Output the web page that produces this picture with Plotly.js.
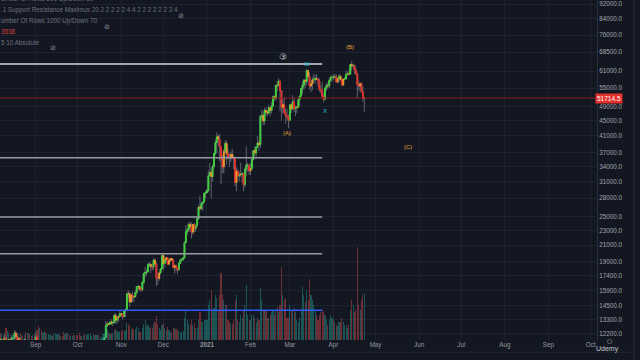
<!DOCTYPE html>
<html><head><meta charset="utf-8">
<script src="https://cdn.plot.ly/plotly-3.0.1.min.js"></script>
<style>html,body{margin:0;padding:0;background:#131722;overflow:hidden}#chart{width:640px;height:360px}</style>
</head><body><div id="chart"></div>
<script>
// ---- data (BTC/USD daily, thousands of USD) ----
const startDate = [2020, 7, 7]; // 7 Aug 2020 (month is 0-based)
const firstOpenK = 11.78;
const closeK = [
 11.60,11.76,11.68,11.88,11.41,11.58,11.78,11.77,11.87,11.91,12.25,11.99,11.76,11.88,11.59,11.68,11.66,11.77,11.37,11.48,11.32,11.54,11.50,11.68,11.65,
 11.95,11.41,10.24,10.51,10.17,10.28,10.37,10.13,10.24,10.36,10.40,10.44,10.33,10.68,10.79,10.95,10.95,10.93,11.08,10.92,10.42,10.54,10.24,10.74,10.69,10.73,10.77,10.70,10.84,10.78,
 10.62,10.57,10.55,10.67,10.79,10.60,10.67,10.92,11.06,11.30,11.38,11.55,11.43,11.43,11.50,11.33,11.37,11.51,11.76,11.92,12.82,12.97,12.93,13.12,13.03,13.07,13.65,13.27,13.46,13.56,13.80,
 13.76,13.55,14.03,14.16,15.59,15.58,14.83,15.48,15.33,15.30,15.70,16.29,16.32,16.07,15.96,16.72,17.65,17.80,17.82,18.68,18.69,18.42,18.37,19.16,18.72,17.15,17.14,17.72,18.18,19.70,
 18.79,19.22,19.45,18.70,19.15,19.36,19.17,18.32,18.55,18.26,18.04,18.80,19.14,19.25,19.44,21.36,22.80,23.13,23.87,23.48,22.74,23.82,23.24,23.73,24.71,26.49,26.28,27.08,27.36,28.84,29.00,
 29.37,32.13,32.78,31.97,33.99,36.82,39.37,40.80,40.25,38.35,35.55,33.92,37.32,39.16,36.83,36.04,35.82,36.63,36.07,35.55,30.83,33.01,32.10,32.29,32.37,32.57,30.43,33.47,34.32,34.32,33.11,
 33.54,35.51,37.47,36.93,38.29,39.26,38.90,46.20,46.48,44.92,47.91,47.50,47.17,48.72,47.94,49.20,52.15,51.68,55.89,55.84,57.41,54.09,48.89,49.68,47.26,46.28,46.12,45.14,
 49.62,48.38,50.54,48.44,48.87,48.90,51.21,52.38,54.88,55.96,57.75,57.22,61.19,58.97,55.64,56.40,57.80,57.86,58.35,58.03,57.35,54.53,54.34,52.30,51.30,55.03,55.85,55.78,57.63,58.73,58.74,
 58.72,58.96,57.06,58.20,59.12,57.97,56.00,58.09,58.09,59.77,59.96,59.86,63.54,62.97,63.11,61.34,60.00,56.15,55.66,56.47,53.78,51.70,51.7145
];
const highK = [
 11.91,11.80,11.81,12.06,11.94,11.62,11.80,11.86,11.96,11.93,12.46,12.38,12.02,11.89,11.91,11.69,11.71,11.80,11.79,11.53,11.59,11.55,11.58,11.69,11.79,
 12.07,12.09,11.50,10.66,10.58,10.34,10.40,10.43,10.35,10.48,10.41,10.47,10.45,10.76,10.94,11.09,11.04,11.03,11.17,11.09,10.99,10.55,10.56,10.78,10.76,10.75,10.80,10.93,10.87,10.85,
 10.95,10.67,10.60,10.69,10.80,10.80,10.68,10.95,11.10,11.49,11.44,11.72,11.56,11.55,11.55,11.54,11.40,11.52,11.82,11.99,13.18,13.16,13.02,13.16,13.34,13.23,13.78,13.86,13.60,13.65,14.03,
 13.86,13.82,14.07,14.24,15.71,15.96,15.77,15.65,15.79,15.45,15.95,16.32,16.48,16.33,16.13,16.85,17.76,18.39,18.11,18.80,18.95,18.72,18.73,19.35,19.41,18.90,17.44,17.85,18.27,19.75,
 19.92,19.31,19.57,19.51,19.18,19.41,19.40,19.29,18.64,18.56,18.26,18.93,19.37,19.35,19.55,21.46,23.76,23.29,24.17,24.27,24.10,23.83,24.09,23.79,24.78,26.87,28.42,27.39,27.39,28.99,29.30,
 29.60,33.16,34.78,33.60,34.44,36.88,40.18,41.95,41.36,41.42,38.26,36.57,37.85,40.00,39.70,37.95,36.79,37.30,37.85,36.42,35.60,33.83,33.46,32.94,34.80,32.92,32.56,33.78,38.53,34.83,34.28,
 34.72,35.98,37.66,38.59,38.29,40.95,39.70,46.62,48.20,47.31,48.63,48.85,48.13,49.70,49.00,50.60,52.60,52.50,56.20,57.50,58.35,57.50,54.18,51.30,52.00,48.40,48.39,46.70,
 49.80,50.10,52.60,51.80,49.40,49.20,51.45,52.40,54.90,57.40,58.10,58.00,61.70,61.60,60.60,56.95,58.90,60.05,59.45,59.90,58.40,58.40,55.80,57.20,53.20,55.10,56.60,56.90,58.40,59.30,59.80,
 59.50,60.00,59.80,58.50,59.90,59.50,58.70,58.20,58.90,61.20,60.70,61.30,63.75,64.90,63.80,63.60,62.50,60.40,57.50,56.75,57.00,55.40,52.10
];
const lowK = [
 11.51,11.53,11.55,11.64,11.18,11.14,11.56,11.67,11.69,11.71,11.88,11.83,11.57,11.70,11.56,11.45,11.55,11.60,11.13,11.30,11.16,11.29,11.45,11.47,11.59,
 11.53,11.20,10.16,10.06,9.88,10.02,9.89,9.98,10.10,10.24,10.26,10.34,10.21,10.28,10.64,10.68,10.74,10.83,10.89,10.82,10.37,10.36,10.19,10.21,10.62,10.66,10.65,10.66,10.65,10.67,
 10.56,10.39,10.51,10.52,10.64,10.53,10.59,10.64,10.82,11.10,11.30,11.25,11.28,11.28,11.32,11.22,11.33,11.34,11.41,11.68,11.90,12.72,12.88,12.90,12.90,12.80,13.06,12.97,13.00,13.12,13.62,
 13.57,13.31,13.51,13.54,14.08,15.17,14.40,14.73,14.84,14.82,15.27,15.51,15.98,15.84,15.79,15.87,16.56,17.23,17.39,17.77,18.35,17.70,18.03,18.04,18.59,16.33,16.50,16.88,17.57,18.18,
 18.00,18.34,18.87,18.65,18.52,18.96,19.03,18.21,17.65,17.91,17.58,18.02,18.74,19.00,19.06,19.29,21.27,22.35,22.77,22.80,21.90,22.37,22.71,22.78,23.42,24.51,25.82,26.10,25.91,27.34,27.96,
 28.80,29.03,32.05,28.00,31.05,33.50,36.40,36.90,38.72,35.20,30.55,32.70,32.53,36.80,34.41,35.48,33.90,34.88,35.90,33.40,30.10,29.20,31.92,31.11,31.91,30.90,29.24,29.90,32.10,32.95,32.30,
 32.30,33.43,35.36,36.25,36.16,38.22,37.40,38.10,45.20,43.80,43.93,46.40,46.20,47.00,46.20,47.10,48.95,50.90,50.90,53.95,55.50,47.70,45.00,47.10,46.90,44.20,45.00,43.00,
 45.10,47.20,48.10,47.50,46.30,47.10,48.90,49.30,51.80,53.00,54.30,55.10,56.10,58.95,54.50,53.60,54.20,56.80,56.30,57.90,55.50,53.70,53.20,51.70,50.40,51.30,54.00,54.70,55.00,57.00,57.10,
 57.70,58.40,57.00,56.50,56.80,57.40,55.50,55.95,57.85,58.00,59.40,59.50,59.70,61.30,62.20,60.00,59.60,51.60,54.20,53.50,53.60,50.60,47.50
];
const volume = [
 7,6,5,7,12,9,7,5,5,5,8,9,7,6,7,5,4,5,8,7,7,6,4,5,6,
 9,10,14,12,10,7,8,8,6,6,5,5,4,6,7,6,6,5,4,4,8,6,7,7,5,4,4,5,5,5,
 5,7,4,4,5,6,5,6,6,6,4,6,5,5,5,5,3,3,6,7,14,11,8,6,7,7,10,11,9,8,8,
 9,10,9,10,17,16,14,11,12,10,11,13,12,8,8,12,16,20,14,15,12,13,12,16,18,24,16,12,10,15,
 17,12,10,13,10,8,8,12,12,11,10,9,8,8,9,22,30,20,16,15,20,15,17,12,12,20,28,18,18,20,20,
 20,35,40,50,30,32,45,42,30,45,67,45,40,35,35,20,18,16,16,20,40,45,20,18,25,22,30,35,55,25,20,
 20,25,25,22,18,22,20,52,40,30,30,30,22,22,25,28,30,25,30,33,28,35,73,45,40,42,22,22,
 35,30,30,32,28,20,18,22,30,53,45,38,50,40,61,45,40,35,30,25,20,25,28,30,28,25,20,15,20,25,22,
 20,18,15,14,18,18,22,18,15,15,12,15,30,40,35,28,30,93,35,30,40,45,47
];
const priceTicks = [92000,84000,76000,68500,61000,55000,49000,45000,41000,37000,34000,31000,28000,25000,23000,21000,19000,17400,15900,14500,13300,12200];
const monthTicks = ['2020-09-01','2020-10-01','2020-11-01','2020-12-01','2021-01-01','2021-02-01','2021-03-01','2021-04-01','2021-05-01','2021-06-01','2021-07-01','2021-08-01','2021-09-01','2021-10-01'];
const monthLabels = ['Sep','Oct','Nov','Dec','<b>2021</b>','Feb','Mar','Apr','May','Jun','Jul','Aug','Sep','Oct'];
const levelPrices = [63700, 35890, 24960, 19930, 14090];
const levelEnd = '2021-03-24';
const lastPrice = 51714.5;
const waveLabels = ['③','W','X','(A)','(B)','(C)'];
const waveDates  = ['2021-02-24','2021-03-13','2021-03-26','2021-02-27','2021-04-13','2021-05-24'];
const wavePrices = [66500, 63700, 47770, 41750, 70700, 38330];
const indicatorLines = ['umber Of Rows 200 Up/Down 30','.1 Support Resistance Maximus 20 2 2 2 2 2 4 4 2 2 2 2 2 2 3 4','umber Of Rows 1000 Up/Down 70','3538','5 10 Absolute'];

// ---- styles ----
const BG = '#131722';
const GREEN = '#41d13b', RED = '#e3302a', ORANGE = '#eb9a2c', WICK = '#5f626c';
const levelColors = ['#d6d8de','#9a9ca4','#9a9ca4','#9a9ca4','#2f5cf5'];
const waveColors = ['#c9cbd1','#27c4d8','#27c4d8','#e8a43a','#e8a43a','#e8a43a'];
const FONT = 'Liberation Sans, Arial, sans-serif';

// ---- build ----
const n = closeK.length;
const dates = [];
for (let i = 0; i < n; i++) {
  dates.push(new Date(Date.UTC(startDate[0], startDate[1], startDate[2] + i)).toISOString().slice(0,10));
}
const close = closeK.map(v => v*1000);
const high = highK.map(v => v*1000);
const low = lowK.map(v => v*1000);
const open = close.map((v,i) => i === 0 ? firstOpenK*1000 : close[i-1]);

// group candles by body colour: with-trend candles green/red, counter-trend candles orange
const order = [GREEN, RED, ORANGE];
const groups = {};
order.forEach(c => groups[c] = {x:[], o:[], h:[], l:[], c:[]});
const volColor = [];
for (let i = 0; i < n; i++) {
  const up = close[i] >= open[i];
  const ref = close[Math.max(0, i-3)];
  const trendUp = close[i] >= ref;
  let col = ORANGE;
  if (up && trendUp) col = GREEN;
  else if (!up && !trendUp) col = RED;
  const g = groups[col];
  g.x.push(dates[i]); g.o.push(open[i]); g.c.push(close[i]);
  g.h.push(Math.max(open[i], close[i])); g.l.push(Math.min(open[i], close[i]));
  volColor.push(up ? 'rgba(38,166,154,0.42)' : 'rgba(239,83,80,0.40)');
}
const maxVol = Math.max(...volume);
const DAY = 86400000;

const traces = [
  { type:'bar', x:dates, y:volume, yaxis:'y2', marker:{color:volColor, line:{width:0}}, width:DAY*0.8, hoverinfo:'skip', showlegend:false },
  // wicks (grey) – bodies are drawn on top by the following candlestick traces
  { type:'candlestick', x:dates, open:open, high:high, low:low, close:close, whiskerwidth:0,
    increasing:{line:{color:WICK, width:1}, fillcolor:WICK}, decreasing:{line:{color:WICK, width:1}, fillcolor:WICK},
    hoverinfo:'skip', showlegend:false }
];
order.forEach(col => {
  const g = groups[col];
  traces.push({ type:'candlestick', x:g.x, open:g.o, high:g.h, low:g.l, close:g.c, whiskerwidth:0,
    increasing:{line:{color:col, width:1}, fillcolor:col}, decreasing:{line:{color:col, width:1}, fillcolor:col},
    hoverinfo:'skip', showlegend:false });
});

const shapes = levelPrices.map((p,i) => ({ type:'line', xref:'x', yref:'y', x0:'2020-07-01', x1:levelEnd, y0:p, y1:p,
  line:{color:levelColors[i], width:1.5} }));
shapes.push({ type:'line', xref:'paper', yref:'y', x0:0, x1:1, y0:lastPrice, y1:lastPrice, line:{color:'#8a1c1c', width:1} });
shapes.push({ type:'line', xref:'paper', yref:'paper', x0:1.062, x1:1.062, y0:-0.06, y1:1, line:{color:'#2a2e39', width:1} });
shapes.push({ type:'line', xref:'paper', yref:'paper', x0:0, x1:1.062, y0:-0.036, y1:-0.036, line:{color:'#222633', width:1} });

const ann = [];
waveLabels.forEach((t,i) => ann.push({ xref:'x', yref:'y', x:waveDates[i], y:Math.log10(wavePrices[i]), text:t, showarrow:false,
  font:{family:FONT, size: t==='③' ? 9 : 6, color:waveColors[i]} }));
ann.push({ xref:'paper', yref:'y', x:1, xanchor:'left', xshift:-2, y:Math.log10(lastPrice), text:'51714.5', showarrow:false,
  bgcolor:'#e5312b', borderpad:1, font:{family:FONT, size:6.5, color:'#ffffff'} });
const indY = [-1, 10, 20.7, 31.3, 42.3];
indicatorLines.forEach((t,i) => ann.push({ xref:'paper', yref:'paper', x:0, xanchor:'left', xshift:-1, y:1 - indY[i]/340, yanchor:'middle',
  text:t, showarrow:false, font:{family:FONT, size:6.3, color: t==='3538' ? '#d8403c' : '#6e717b'} }));
[[176,10],[102,20.7],[48,42.3]].forEach(p => ann.push({ xref:'paper', yref:'paper', x:p[0]/597, y:1 - p[1]/340, text:'⊘', showarrow:false,
  font:{family:'DejaVu Sans', size:7, color:'#8d9099'} }));
ann.push({ xref:'paper', yref:'paper', x:621/597, y:1 - 355/340, text:'Udemy', showarrow:false, font:{family:FONT, size:7, color:'#c9ccd3'} });
ann.push({ xref:'paper', yref:'paper', x:614/597, y:1 - 346/340, text:'○', showarrow:false, font:{family:'DejaVu Sans', size:6, color:'#c9ccd3'} });

const layout = {
  width:640, height:360, margin:{l:0, r:43, t:0, b:20},
  paper_bgcolor:BG, plot_bgcolor:BG, showlegend:false, barmode:'overlay', bargap:0, boxmode:'overlay', boxgap:0.15,
  font:{family:FONT, color:'#9598a1'},
  xaxis:{ type:'date', range:['2020-08-06 17:00','2021-10-05 14:00'], rangeslider:{visible:false},
    tickmode:'array', tickvals:monthTicks, ticktext:monthLabels, tickfont:{size:6.3, color:'#9598a1'},
    showgrid:true, gridcolor:'#1d2130', gridwidth:1, zeroline:false, showline:false, ticks:'', fixedrange:true },
  yaxis:{ type:'log', range:[4.070, 4.9745], side:'right', tickmode:'array', tickvals:priceTicks,
    ticktext:priceTicks.map(v => v.toFixed(1)), tickfont:{size:6.3, color:'#a3a6af'},
    showgrid:true, gridcolor:'#1d2130', gridwidth:1, zeroline:false, showline:true, linecolor:'#2a2e39', ticks:'', fixedrange:true },
  yaxis2:{ overlaying:'y', range:[0, maxVol*3.66], visible:false, fixedrange:true },
  shapes:shapes, annotations:ann
};
Plotly.newPlot('chart', traces, layout, {displayModeBar:false, staticPlot:true});
</script>
</body></html>
